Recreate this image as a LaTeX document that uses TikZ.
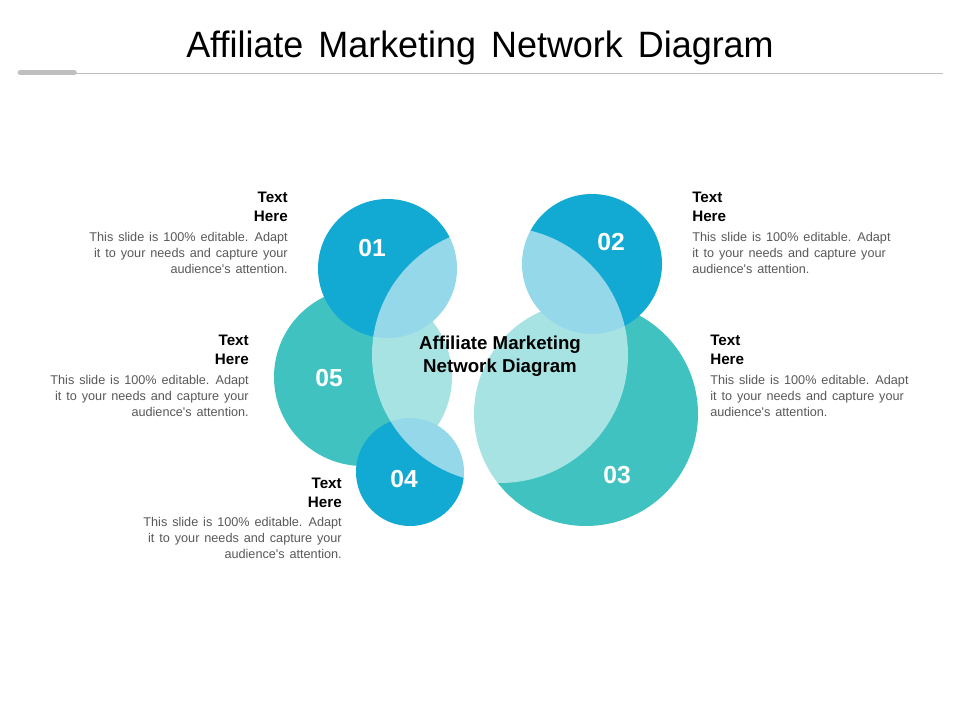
\documentclass[tikz,border=0pt]{standalone}
\usepackage{fontspec}
\setmainfont{Liberation Sans}
\newfontfamily\titlefont[FakeStretch=0.98,WordSpace=1.5]{Liberation Sans}
\newfontfamily\bodyfont[WordSpace=1.4]{Liberation Sans}
\definecolor{dblue}{HTML}{12A9D2}
\definecolor{cteal}{HTML}{40C2C1}
\definecolor{bodygray}{HTML}{595959}
\definecolor{rulegray}{HTML}{BFBFBF}
\tikzset{
  bubble/.style={circle, inner sep=0pt, draw=none},
  bluebubble/.style={bubble, fill=dblue},
  tealbubble/.style={bubble, fill=cteal},
  numtext/.style={text=white, font=\bfseries\fontsize{18.5pt}{20pt}\selectfont, inner sep=0pt},
  headR/.style={align=right, anchor=north east, inner sep=0pt, font=\bfseries\fontsize{11.4pt}{14.25pt}\selectfont},
  headL/.style={align=left, anchor=north west, inner sep=0pt, font=\bfseries\fontsize{11.4pt}{14.25pt}\selectfont},
  bodyR/.style={align=right, anchor=north east, inner sep=0pt, text=bodygray, font=\bodyfont\fontsize{9.5pt}{12pt}\selectfont},
  bodyL/.style={align=left, anchor=north west, inner sep=0pt, text=bodygray, font=\bodyfont\fontsize{9.5pt}{12pt}\selectfont},
}
\begin{document}
\begin{tikzpicture}[x=0.75pt,y=-0.75pt]
\useasboundingbox[fill=white] (0,0) rectangle (960,720);
% title
\node[anchor=base, inner sep=0pt, font=\titlefont\fontsize{27.5pt}{30pt}\selectfont] (title) at (480,57.5) {Affiliate Marketing Network Diagram};
\coordinate (ruleL) at (18,73.5);
\coordinate (ruleR) at (943,73.5);
\draw[rulegray, line width=0.75pt] (ruleL) -- (ruleR);
\coordinate (barL) at (20.5,72.5);
\coordinate (barR) at (74,72.5);
\draw[rulegray, line width=4.2pt, line cap=round] (barL) -- (barR);
% circles
\node[tealbubble, minimum size=133.5pt] (c5) at (363,377) {};
\node[tealbubble, minimum size=168pt] (c3) at (586,414) {};
\node[bluebubble, minimum size=104.25pt] (c1) at (387.5,268.5) {};
\node[bluebubble, minimum size=105pt] (c2) at (592,264) {};
\node[bluebubble, minimum size=81pt] (c4) at (410,472) {};
\node[bubble, fill=white, fill opacity=0.55, minimum size=192pt] (cc) at (500,355) {};
% numbers
\node[numtext] (n1) at (372,248) {01};
\node[numtext] (n2) at (611,242) {02};
\node[numtext] (n3) at (617,475) {03};
\node[numtext] (n4) at (404,479) {04};
\node[numtext] (n5) at (329,378) {05};
% centre text
\node[align=center, inner sep=0pt, font=\bfseries\fontsize{14pt}{17.25pt}\selectfont] (ctext) at (500,356) {Affiliate Marketing\\Network Diagram};
% text blocks
\node[headR] (h1) at (288,191.5) {Text\\Here};
\node[bodyR] (b1) at (288,232) {This slide is 100\% editable. Adapt\\it to your needs and capture your\\audience's attention.};
\node[headR] (h5) at (249,334.5) {Text\\Here};
\node[bodyR] (b5) at (249,375) {This slide is 100\% editable. Adapt\\it to your needs and capture your\\audience's attention.};
\node[headR] (h4) at (342,477.5) {Text\\Here};
\node[bodyR] (b4) at (342,517) {This slide is 100\% editable. Adapt\\it to your needs and capture your\\audience's attention.};
\node[headL] (h2) at (692,191.5) {Text\\Here};
\node[bodyL] (b2) at (692,232) {This slide is 100\% editable. Adapt\\it to your needs and capture your\\audience's attention.};
\node[headL] (h3) at (710,334.5) {Text\\Here};
\node[bodyL] (b3) at (710,375) {This slide is 100\% editable. Adapt\\it to your needs and capture your\\audience's attention.};
\end{tikzpicture}
\end{document}
